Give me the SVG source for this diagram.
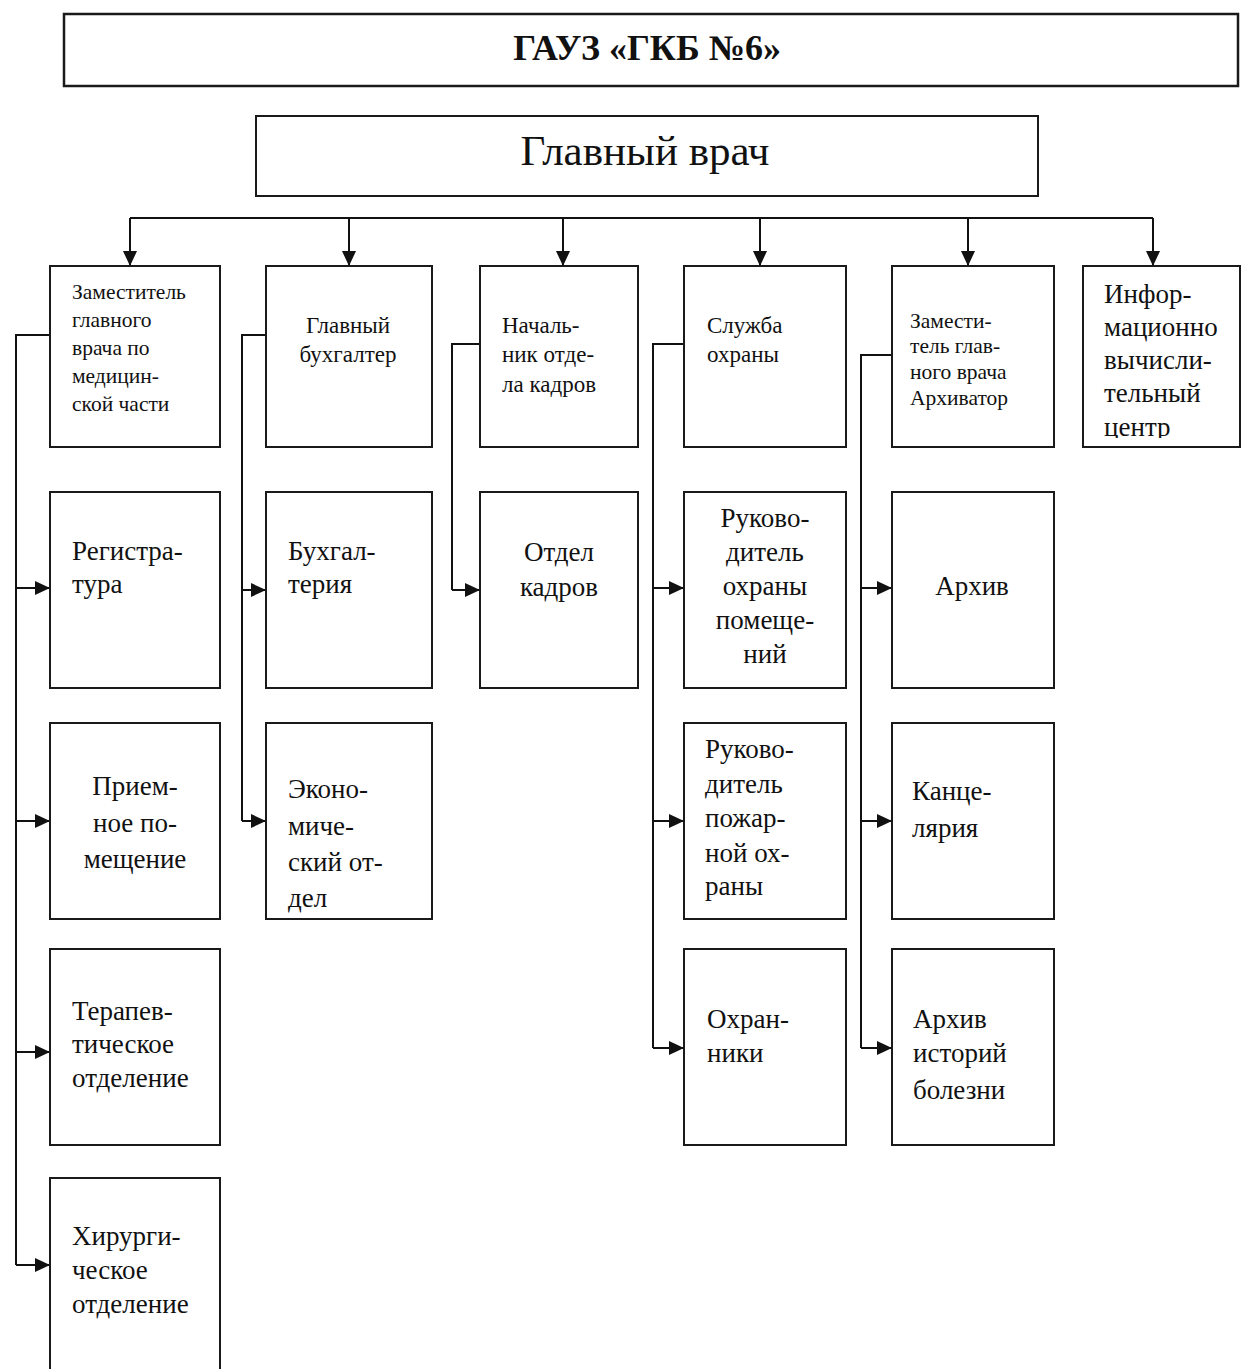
<svg xmlns="http://www.w3.org/2000/svg" width="1241" height="1369" viewBox="0 0 1241 1369">
<style>
.box{fill:#fff;stroke:#1a1a1a;stroke-width:2}
.hdr{fill:#fff;stroke:#1a1a1a;stroke-width:2.5}
.ln{fill:none;stroke:#111;stroke-width:2}
text{font-family:"Liberation Serif","Times New Roman",serif;fill:#111}
.t1{font-size:36px;font-weight:bold;text-anchor:middle}
.t2{font-size:43px;text-anchor:middle}
.s{font-size:21.5px}
.m{font-size:23px}
.l{font-size:27px}
.c{text-anchor:middle}
</style>
<defs>
<marker id="ah" markerUnits="userSpaceOnUse" viewBox="0 0 15 14" refX="15" refY="7" markerWidth="15" markerHeight="14" orient="auto">
<path d="M0,0 L15,7 L0,14 z" fill="#111"/>
</marker>
<clipPath id="clip6"><rect x="1083" y="266" width="158" height="172"/></clipPath>
</defs>

<g id="connectors">
<path class="ln" d="M130,218 H1153"/>
<path class="ln" d="M130,218 V266" marker-end="url(#ah)"/>
<path class="ln" d="M349,218 V266" marker-end="url(#ah)"/>
<path class="ln" d="M563,218 V266" marker-end="url(#ah)"/>
<path class="ln" d="M760,218 V266" marker-end="url(#ah)"/>
<path class="ln" d="M968,218 V266" marker-end="url(#ah)"/>
<path class="ln" d="M1153,218 V266" marker-end="url(#ah)"/>

<path class="ln" d="M50,335 H16 V1265"/>
<path class="ln" d="M16,588 H50" marker-end="url(#ah)"/>
<path class="ln" d="M16,821 H50" marker-end="url(#ah)"/>
<path class="ln" d="M16,1052 H50" marker-end="url(#ah)"/>
<path class="ln" d="M16,1265 H50" marker-end="url(#ah)"/>

<path class="ln" d="M266,335 H242 V821"/>
<path class="ln" d="M242,590 H266" marker-end="url(#ah)"/>
<path class="ln" d="M242,821 H266" marker-end="url(#ah)"/>

<path class="ln" d="M480,344 H452 V590"/>
<path class="ln" d="M452,590 H480" marker-end="url(#ah)"/>

<path class="ln" d="M684,344 H653 V1048"/>
<path class="ln" d="M653,588 H684" marker-end="url(#ah)"/>
<path class="ln" d="M653,821 H684" marker-end="url(#ah)"/>
<path class="ln" d="M653,1048 H684" marker-end="url(#ah)"/>

<path class="ln" d="M892,355 H861 V1048"/>
<path class="ln" d="M861,588 H892" marker-end="url(#ah)"/>
<path class="ln" d="M861,821 H892" marker-end="url(#ah)"/>
<path class="ln" d="M861,1048 H892" marker-end="url(#ah)"/>
</g>

<g id="n-gauz">
<rect class="hdr" x="64" y="14" width="1174" height="72"/>
<text class="t1" x="647" y="60">ГАУЗ «ГКБ №6»</text>
</g>

<g id="n-glavvrach">
<rect class="box" x="256" y="116" width="782" height="80"/>
<text class="t2" x="645" y="165">Главный врач</text>
</g>

<g id="n-zam-med">
<rect class="box" x="50" y="266" width="170" height="181"/>
<text class="s" x="72"><tspan x="72" y="299">Заместитель</tspan><tspan x="72" y="327">главного</tspan><tspan x="72" y="355">врача по</tspan><tspan x="72" y="383">медицин-</tspan><tspan x="72" y="411">ской части</tspan></text>
</g>

<g id="n-glavbuh">
<rect class="box" x="266" y="266" width="166" height="181"/>
<text class="m c" x="348"><tspan x="348" y="333">Главный</tspan><tspan x="348" y="362">бухгалтер</tspan></text>
</g>

<g id="n-nach-kadr">
<rect class="box" x="480" y="266" width="158" height="181"/>
<text class="m" x="502"><tspan x="502" y="333">Началь-</tspan><tspan x="502" y="362">ник отде-</tspan><tspan x="502" y="392">ла кадров</tspan></text>
</g>

<g id="n-sluzhba">
<rect class="box" x="684" y="266" width="162" height="181"/>
<text class="m" x="707"><tspan x="707" y="333">Служба</tspan><tspan x="707" y="362">охраны</tspan></text>
</g>

<g id="n-zam-arh">
<rect class="box" x="892" y="266" width="162" height="181"/>
<text class="s" x="910"><tspan x="910" y="328">Замести-</tspan><tspan x="910" y="353">тель глав-</tspan><tspan x="910" y="379">ного врача</tspan><tspan x="910" y="405">Архиватор</tspan></text>
</g>

<g id="n-ivc">
<rect class="box" x="1083" y="266" width="157" height="181"/>
<text class="l" x="1104" clip-path="url(#clip6)"><tspan x="1104" y="303">Инфор-</tspan><tspan x="1104" y="336">мационно</tspan><tspan x="1104" y="369">вычисли-</tspan><tspan x="1104" y="402">тельный</tspan><tspan x="1104" y="436">центр</tspan></text>
</g>

<g id="n-registratura">
<rect class="box" x="50" y="492" width="170" height="196"/>
<text class="l" x="72"><tspan x="72" y="560">Регистра-</tspan><tspan x="72" y="593">тура</tspan></text>
</g>

<g id="n-buhgalteriya">
<rect class="box" x="266" y="492" width="166" height="196"/>
<text class="l" x="288"><tspan x="288" y="560">Бухгал-</tspan><tspan x="288" y="593">терия</tspan></text>
</g>

<g id="n-otdel-kadrov">
<rect class="box" x="480" y="492" width="158" height="196"/>
<text class="l c" x="559"><tspan x="559" y="561">Отдел</tspan><tspan x="559" y="596">кадров</tspan></text>
</g>

<g id="n-ruk-ohr-pom">
<rect class="box" x="684" y="492" width="162" height="196"/>
<text class="l c" x="765"><tspan x="765" y="527">Руково-</tspan><tspan x="765" y="561">дитель</tspan><tspan x="765" y="595">охраны</tspan><tspan x="765" y="629">помеще-</tspan><tspan x="765" y="663">ний</tspan></text>
</g>

<g id="n-arhiv">
<rect class="box" x="892" y="492" width="162" height="196"/>
<text class="l c" x="972" y="595">Архив</text>
</g>

<g id="n-priemnoe">
<rect class="box" x="50" y="723" width="170" height="196"/>
<text class="l c" x="135"><tspan x="135" y="795">Прием-</tspan><tspan x="135" y="832">ное по-</tspan><tspan x="135" y="868">мещение</tspan></text>
</g>

<g id="n-ekonom">
<rect class="box" x="266" y="723" width="166" height="196"/>
<text class="l" x="288"><tspan x="288" y="798">Эконо-</tspan><tspan x="288" y="835">миче-</tspan><tspan x="288" y="871">ский от-</tspan><tspan x="288" y="907">дел</tspan></text>
</g>

<g id="n-ruk-pozh">
<rect class="box" x="684" y="723" width="162" height="196"/>
<text class="l" x="705"><tspan x="705" y="758">Руково-</tspan><tspan x="705" y="793">дитель</tspan><tspan x="705" y="827">пожар-</tspan><tspan x="705" y="862">ной ох-</tspan><tspan x="705" y="895">раны</tspan></text>
</g>

<g id="n-kancelyariya">
<rect class="box" x="892" y="723" width="162" height="196"/>
<text class="l" x="912"><tspan x="912" y="800">Канце-</tspan><tspan x="912" y="837">лярия</tspan></text>
</g>

<g id="n-terapevt">
<rect class="box" x="50" y="949" width="170" height="196"/>
<text class="l" x="72"><tspan x="72" y="1020">Терапев-</tspan><tspan x="72" y="1053">тическое</tspan><tspan x="72" y="1087">отделение</tspan></text>
</g>

<g id="n-ohranniki">
<rect class="box" x="684" y="949" width="162" height="196"/>
<text class="l" x="707"><tspan x="707" y="1028">Охран-</tspan><tspan x="707" y="1062">ники</tspan></text>
</g>

<g id="n-arhiv-ist">
<rect class="box" x="892" y="949" width="162" height="196"/>
<text class="l" x="913"><tspan x="913" y="1028">Архив</tspan><tspan x="913" y="1062">историй</tspan><tspan x="913" y="1099">болезни</tspan></text>
</g>

<g id="n-hirurg">
<rect class="box" x="50" y="1178" width="170" height="210"/>
<text class="l" x="72"><tspan x="72" y="1245">Хирурги-</tspan><tspan x="72" y="1279">ческое</tspan><tspan x="72" y="1313">отделение</tspan></text>
</g>
</svg>
